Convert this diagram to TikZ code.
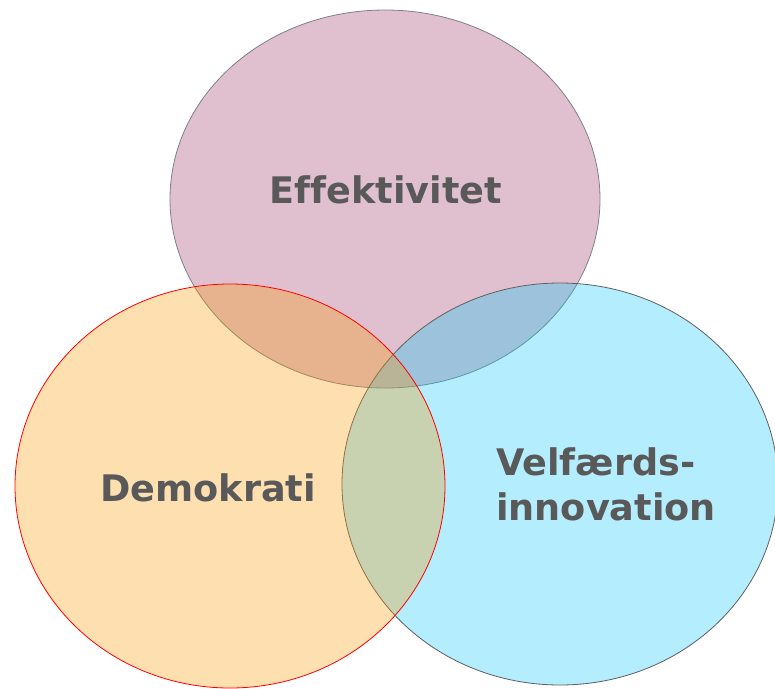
\documentclass[tikz,border=0pt]{standalone}
\usepackage{fontspec}
\setmainfont[Ligatures={NoCommon}]{DejaVu Sans}
\definecolor{pinkT}{RGB}{155,52,103}
\definecolor{cyanT}{RGB}{10,200,252}
\definecolor{orangeT}{RGB}{249,152,3}
\definecolor{txtgray}{RGB}{89,89,89}
\definecolor{pinkline}{RGB}{128,128,136}
\definecolor{cyanline}{RGB}{96,96,96}
\begin{document}
\begin{tikzpicture}[x=1pt,y=-1pt,
  blob/.style={fill opacity=0.31, draw opacity=1, line width=0.8pt},
  lbl/.style={text=txtgray, font=\fontsize{36.6}{45}\selectfont\bfseries, inner sep=0pt}]
\useasboundingbox (0,0) rectangle (775,688);
\fill[white] (0,0) rectangle (775,688);
\draw[blob, fill=pinkT, draw=pinkline] (385,199) ellipse [x radius=215, y radius=189];
\draw[blob, fill=cyanT, draw=cyanline] (560,484) ellipse [x radius=218, y radius=201];
\draw[blob, fill=orangeT, draw=red] (230,486) ellipse [x radius=215, y radius=202];
\node[lbl, anchor=base] (eff) at (386,203.3) {Effektivitet};
\node[lbl, anchor=base] (dem) at (208,501.7) {Demokrati};
\node[lbl, anchor=base west] (vel) at (496,475) {Velfærds-};
\node[lbl, anchor=base west] (inn) at (496,520) {innovation};
\end{tikzpicture}
\end{document}
